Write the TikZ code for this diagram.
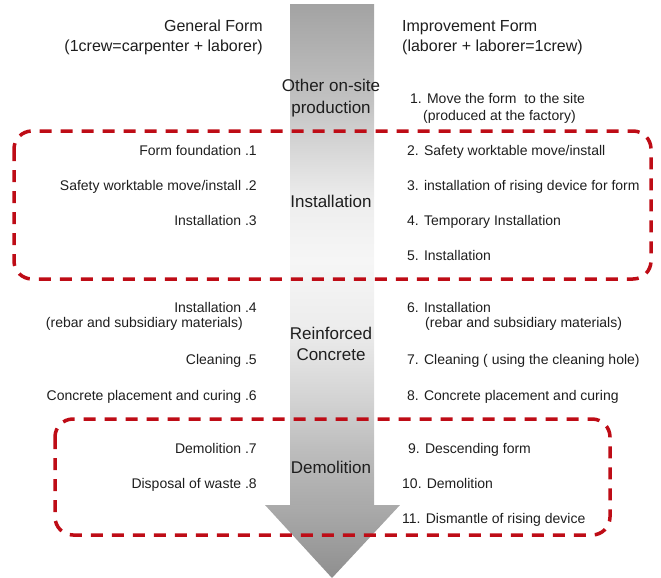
\documentclass[tikz,border=0pt]{standalone}
\usepackage{fontspec}
\setmainfont{Liberation Sans}
\definecolor{boxred}{RGB}{190,12,22}
\definecolor{txt}{RGB}{30,30,30}
% light band in the middle of the shaft
\pgfdeclareverticalshading{shaftfade}{100bp}{%
  color(0bp)=(gray!67); color(25bp)=(gray!67); color(30.6bp)=(gray!52);
  color(35.5bp)=(gray!35); color(42.5bp)=(gray!15); color(49.5bp)=(gray!7);
  color(55.5bp)=(gray!14); color(65.5bp)=(gray!48); color(75bp)=(gray!72);
  color(100bp)=(gray!72)}

\begin{document}
\begin{tikzpicture}[
    x=1pt, y=-1pt,
    hdr/.style={text=txt, font=\fontsize{16}{20}\selectfont, inner sep=0pt},
    lft/.style={anchor=base east, text=txt, font=\fontsize{14}{16}\selectfont, inner sep=0pt},
    rgt/.style={anchor=base west, text=txt, font=\fontsize{14}{16}\selectfont, inner sep=0pt},
    stage/.style={anchor=base, align=center, text=txt, font=\fontsize{17}{21}\selectfont, inner sep=0pt},
    grp/.style={draw=boxred, line width=3.5pt, dash pattern=on 12pt off 9pt, rounded corners=18pt}
]
\useasboundingbox (0,0) rectangle (661,578);

% --- Flow arrow ---
\shade[shading=shaftfade] (290,5) rectangle (374,506);
\shade[top color=gray!66, bottom color=gray!88] (265,505) -- (400,505) -- (332,578) -- cycle;

% --- Headers (base = last line) ---
\node[hdr, anchor=base east, align=right] (gen) at (263,52) {General Form\\(1crew=carpenter + laborer)};
\node[hdr, anchor=base west, align=left] (imp) at (402,52) {Improvement Form\\(laborer + laborer=1crew)};

% --- Stages on the arrow ---
\node[stage] (s0) at (331,113) {Other on-site\\production};
\node[stage] (s1) at (331,207) {Installation};
\node[stage] (s2) at (331,360) {Reinforced\\Concrete};
\node[stage] (s3) at (331,473) {Demolition};

% --- General form column ---
\node[lft] (g1) at (257,155) {Form foundation .1};
\node[lft] (g2) at (257,190) {Safety worktable move/install .2};
\node[lft] (g3) at (257,225) {Installation .3};
\node[lft] (g4) at (257,312) {Installation .4};
\node[lft] (g4b) at (243,327) {(rebar and subsidiary materials)};
\node[lft] (g5) at (257,364) {Cleaning .5};
\node[lft] (g6) at (257,400) {Concrete placement and curing .6};
\node[lft] (g7) at (257,453) {Demolition .7};
\node[lft] (g8) at (257,488) {Disposal of waste .8};

% --- Improvement form column ---
\node[rgt] (r1) at (410,103) {1. Move the form\ \ to the site};
\node[rgt] (r1b) at (423,120) {(produced at the factory)};
\node[rgt] (r2) at (407,155) {2. Safety worktable move/install};
\node[rgt] (r3) at (407,190) {3. installation of rising device for form};
\node[rgt] (r4) at (407,225) {4. Temporary Installation};
\node[rgt] (r5) at (407,260) {5. Installation};
\node[rgt] (r6) at (407,312) {6. Installation};
\node[rgt] (r6b) at (425,327) {(rebar and subsidiary materials)};
\node[rgt] (r7) at (407,364) {7. Cleaning ( using the cleaning hole)};
\node[rgt] (r8) at (407,400) {8. Concrete placement and curing};
\node[rgt] (r9) at (408,453) {9. Descending form};
\node[rgt] (r10) at (402,488) {10. Demolition};
\node[rgt] (r11) at (402,523) {11. Dismantle of rising device};

% --- Grouping boxes ---
\draw[grp] (14,131) rectangle (651,279);
\draw[grp] (55,419) rectangle (610,535);
\end{tikzpicture}
\end{document}
